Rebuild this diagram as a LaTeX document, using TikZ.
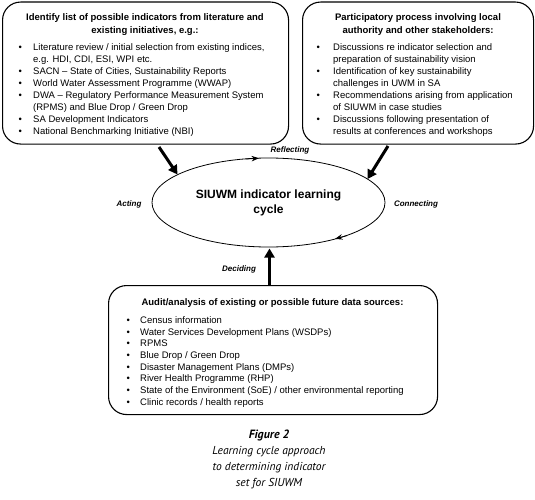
\documentclass[tikz,border=0pt]{standalone}
\usepackage{fontspec}
\setmainfont{Liberation Sans}
\newfontfamily\capfont{PT Sans}
\usetikzlibrary{shapes.geometric,arrows.meta}
\newcommand{\blist}[2]{{\setlength{\tabcolsep}{0pt}\begin{tabular}{@{}p{#1}@{}l@{}}#2\end{tabular}}}
\newcommand{\bu}{\textbullet}
\begin{document}
\begin{tikzpicture}[x=1pt,y=-1pt,
  box/.style={draw, line width=1.1pt, rounded corners=18pt, inner sep=0pt, anchor=north west},
  boxtitle/.style={anchor=north, align=center, inner sep=0pt, font=\bfseries\fontsize{9.5}{13}\selectfont},
  items/.style={anchor=north west, inner sep=0pt, font=\fontsize{9.5}{12}\selectfont},
  cyclelabel/.style={font=\bfseries\itshape\fontsize{8}{10}\selectfont, inner sep=0pt},
  bigarrow/.style={line width=3pt, -{Triangle[length=9pt,width=10pt]}},
  cycarrow/.style={line width=0.8pt, -{Stealth[length=7.5pt,width=5.5pt]}}
]
\useasboundingbox (0,0) rectangle (535,500);
% boxes
\node[box, minimum width=286pt, minimum height=142pt] (lbox) at (2,1.5) {};
\node[box, minimum width=231pt, minimum height=142pt] (rbox) at (302,1.5) {};
\node[box, minimum width=329pt, minimum height=129pt] (bbox) at (108,285) {};
% titles
\node[boxtitle] (ltitle) at (145,13) {Identify list of possible indicators from literature and\\existing initiatives, e.g.:};
\node[boxtitle] (rtitle) at (418,13) {Participatory process involving local\\authority and other stakeholders:};
\node[boxtitle] (btitle) at (272.5,298) {Audit/analysis of existing or possible future data sources:};
% items
\node[items] (litems) at (18.3,42) {\blist{14.7pt}{%
\bu & Literature review / initial selection from existing indices,\\
 & e.g. HDI, CDI, ESI, WPI etc.\\
\bu & SACN -- State of Cities, Sustainability Reports\\
\bu & World Water Assessment Programme (WWAP)\\
\bu & DWA -- Regulatory Performance Measurement System\\
 & (RPMS) and Blue Drop / Green Drop\\
\bu & SA Development Indicators\\
\bu & National Benchmarking Initiative (NBI)}};
\node[items] (ritems) at (316.3,42) {\blist{16.7pt}{%
\bu & Discussions re indicator selection and\\
 & preparation of sustainability vision\\
\bu & Identification of key sustainability\\
 & challenges in UWM in SA\\
\bu & Recommendations arising from application\\
 & of SIUWM in case studies\\
\bu & Discussions following presentation of\\
 & results at conferences and workshops}};
\node[items, font=\fontsize{9.5}{11.7}\selectfont] (bitems) at (126.3,315) {\blist{13.7pt}{%
\bu & Census information\\
\bu & Water Services Development Plans (WSDPs)\\
\bu & RPMS\\
\bu & Blue Drop / Green Drop\\
\bu & Disaster Management Plans (DMPs)\\
\bu & River Health Programme (RHP)\\
\bu & State of the Environment (SoE) / other environmental reporting\\
\bu & Clinic records / health reports}};
% cycle
\node[draw, ellipse, line width=0.8pt, minimum width=233pt, minimum height=89pt, inner sep=0pt,
  align=center, font=\bfseries\fontsize{12}{15}\selectfont] (cyc) at (268.5,202.5) {SIUWM indicator learning\\cycle};
% direction arrows on the cycle
\coordinate (c1s) at (246,159.0);
\coordinate (c1e) at (259,158.2);
\coordinate (c2s) at (347,235.6);
\coordinate (c2e) at (335,238.9);
\draw[cycarrow] (c1s) -- (c1e);
\draw[cycarrow] (c2s) -- (c2e);
% labels
\node[cyclelabel] (reflect) at (290,150) {Reflecting};
\node[cyclelabel] (connect) at (416,204) {Connecting};
\node[cyclelabel] (decide) at (239,269) {Deciding};
\node[cyclelabel] (act) at (129,204) {Acting};
% thick arrows
\coordinate (a1s) at (159,147);
\coordinate (a1e) at (177.5,174.5);
\coordinate (a2s) at (388,146);
\coordinate (a2e) at (367.5,179);
\coordinate (a3s) at (269.5,285);
\coordinate (a3e) at (269.5,248.5);
\draw[bigarrow] (a1s) -- (a1e);
\draw[bigarrow] (a2s) -- (a2e);
\draw[bigarrow] (a3s) -- (a3e);
% caption
\node[font=\capfont\bfseries\itshape\fontsize{12}{16}\selectfont, inner sep=0pt] (fig) at (269,435) {Figure 2};
\node[font=\capfont\itshape\fontsize{11.5}{16}\selectfont, align=center, anchor=north, inner sep=0pt] (cap) at (269,446) {Learning cycle approach\\to determining indicator\\set for SIUWM};
\end{tikzpicture}
\end{document}
